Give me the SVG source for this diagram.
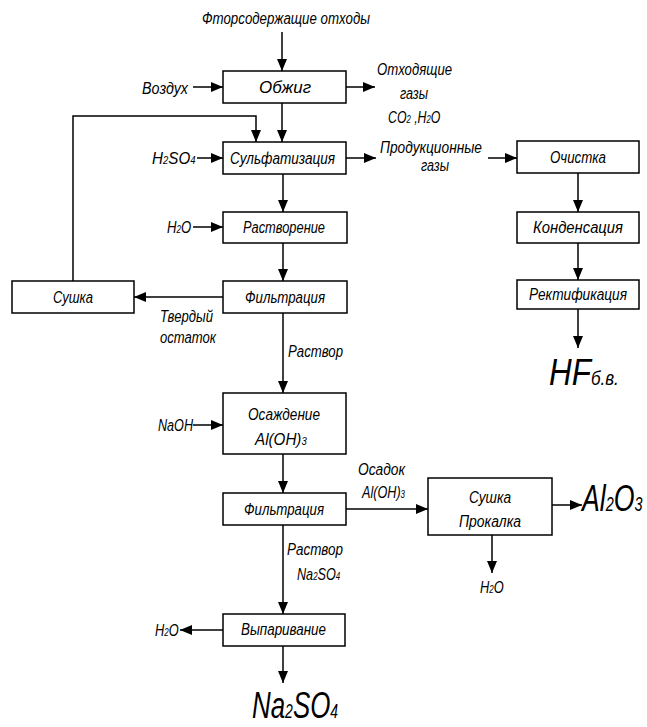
<svg xmlns="http://www.w3.org/2000/svg" width="647" height="727" viewBox="0 0 647 727">
<defs>
<marker id="ah" markerUnits="userSpaceOnUse" markerWidth="13" markerHeight="11" refX="12" refY="5" orient="auto"><path d="M0,0 L12,5 L0,10 z" fill="#000"/></marker>
</defs>
<style>
.box{fill:#fff;stroke:#000;stroke-width:1.5}
.t{font-family:"Liberation Sans",Arial,sans-serif;font-style:italic;font-size:16px;fill:#000}
.c{stroke:#000;stroke-width:1.5;fill:none;marker-end:url(#ah)}
.s{font-size:10px}
.big{font-size:37px}
.bs{font-size:20px}
</style>
<rect width="647" height="727" fill="#fff"/>
<g id="connectors">
<path class="c" d="M282,32 V71"/>
<path class="c" d="M193,87 H223"/>
<path class="c" d="M346,87 H375"/>
<path class="c" d="M282,103 V142"/>
<path class="c" d="M73,281 V116 H256 V142"/>
<path class="c" d="M197,158 H223"/>
<path class="c" d="M346,158 H376"/>
<path class="c" d="M488,158 H517"/>
<path class="c" d="M578,173 V212"/>
<path class="c" d="M578,243 V280"/>
<path class="c" d="M578,309 V348"/>
<path class="c" d="M283,174 V212"/>
<path class="c" d="M193,227 H223"/>
<path class="c" d="M283,243 V281"/>
<path class="c" d="M223,297 H134"/>
<path class="c" d="M283,313 V393"/>
<path class="c" d="M193,425 H223"/>
<path class="c" d="M283,454 V493"/>
<path class="c" d="M346,509 H428"/>
<path class="c" d="M552,505 H582"/>
<path class="c" d="M492,535 V573"/>
<path class="c" d="M283,525 V614"/>
<path class="c" d="M223,630 H180"/>
<path class="c" d="M283,646 V683"/>
</g>
<g id="n-obzhig"><rect class="box" x="223" y="71" width="123" height="32"/><text class="t" x="259" y="93" textLength="52" lengthAdjust="spacingAndGlyphs">Обжиг</text></g>
<g id="n-sulf"><rect class="box" x="223" y="142" width="123" height="32"/><text class="t" x="230" y="164" textLength="105" lengthAdjust="spacingAndGlyphs">Сульфатизация</text></g>
<g id="n-rastv"><rect class="box" x="223" y="212" width="124" height="31"/><text class="t" x="243" y="233" textLength="82" lengthAdjust="spacingAndGlyphs">Растворение</text></g>
<g id="n-filtr1"><rect class="box" x="223" y="281" width="124" height="32"/><text class="t" x="245" y="303" textLength="80" lengthAdjust="spacingAndGlyphs">Фильтрация</text></g>
<g id="n-sushka1"><rect class="box" x="12" y="281" width="122" height="32"/><text class="t" x="53" y="303" textLength="40" lengthAdjust="spacingAndGlyphs">Сушка</text></g>
<g id="n-osazh"><rect class="box" x="223" y="393" width="123" height="61"/><text class="t" x="248" y="420" textLength="72" lengthAdjust="spacingAndGlyphs">Осаждение</text><text class="t" transform="translate(255,445) scale(0.95,1)">Al(OH)<tspan class="s">3</tspan></text></g>
<g id="n-filtr2"><rect class="box" x="223" y="493" width="123" height="32"/><text class="t" x="244" y="515" textLength="80" lengthAdjust="spacingAndGlyphs">Фильтрация</text></g>
<g id="n-sushka2"><rect class="box" x="428" y="478" width="124" height="57"/><text class="t" x="469" y="503" textLength="42" lengthAdjust="spacingAndGlyphs">Сушка</text><text class="t" x="459" y="527" textLength="62" lengthAdjust="spacingAndGlyphs">Прокалка</text></g>
<g id="n-vypar"><rect class="box" x="223" y="614" width="122" height="32"/><text class="t" x="241" y="635" textLength="85" lengthAdjust="spacingAndGlyphs">Выпаривание</text></g>
<g id="n-ochist"><rect class="box" x="517" y="141" width="122" height="32"/><text class="t" x="550" y="163" textLength="56" lengthAdjust="spacingAndGlyphs">Очистка</text></g>
<g id="n-konden"><rect class="box" x="517" y="212" width="122" height="31"/><text class="t" x="533" y="233" textLength="90" lengthAdjust="spacingAndGlyphs">Конденсация</text></g>
<g id="n-rektif"><rect class="box" x="517" y="280" width="122" height="29"/><text class="t" x="529" y="300" textLength="98" lengthAdjust="spacingAndGlyphs">Ректификация</text></g>
<g id="labels">
<text class="t" x="202" y="24" textLength="168" lengthAdjust="spacingAndGlyphs">Фторсодержащие отходы</text>
<text class="t" x="142" y="94" textLength="46" lengthAdjust="spacingAndGlyphs">Воздух</text>
<text class="t" x="377" y="75" textLength="75" lengthAdjust="spacingAndGlyphs">Отходящие</text>
<text class="t" x="400" y="99" textLength="28" lengthAdjust="spacingAndGlyphs">газы</text>
<text class="t" transform="translate(388,123) scale(0.77,1)">CO<tspan class="s">2</tspan> ,H<tspan class="s">2</tspan>O</text>
<text class="t" transform="translate(152,164) scale(0.95,1)">H<tspan class="s">2</tspan>SO<tspan class="s">4</tspan></text>
<text class="t" x="380" y="153" textLength="102" lengthAdjust="spacingAndGlyphs">Продукционные</text>
<text class="t" x="421" y="171" textLength="28" lengthAdjust="spacingAndGlyphs">газы</text>
<text class="t" transform="translate(167,233) scale(0.82,1)">H<tspan class="s">2</tspan>O</text>
<text class="t" x="160" y="322" textLength="53" lengthAdjust="spacingAndGlyphs">Твердый</text>
<text class="t" x="160" y="343" textLength="56" lengthAdjust="spacingAndGlyphs">остаток</text>
<text class="t" x="288" y="357" textLength="55" lengthAdjust="spacingAndGlyphs">Раствор</text>
<text class="t" x="158" y="431" textLength="35" lengthAdjust="spacingAndGlyphs">NaOH</text>
<text class="t" x="358" y="475" textLength="47" lengthAdjust="spacingAndGlyphs">Осадок</text>
<text class="t" transform="translate(362,498) scale(0.79,1)">Al(OH)<tspan class="s">3</tspan></text>
<text class="t" x="287" y="555" textLength="56" lengthAdjust="spacingAndGlyphs">Раствор</text>
<text class="t" transform="translate(297,580) scale(0.79,1)">Na<tspan class="s">2</tspan>SO<tspan class="s">4</tspan></text>
<text class="t" transform="translate(480,593) scale(0.8,1)">H<tspan class="s">2</tspan>O</text>
<text class="t" transform="translate(155,636) scale(0.8,1)">H<tspan class="s">2</tspan>O</text>
<text class="t big" transform="translate(549,385) scale(0.85,1)">HF<tspan class="bs">б.в.</tspan></text>
<text class="t big" transform="translate(582,511) scale(0.72,1)">Al<tspan class="bs">2</tspan>O<tspan class="bs">3</tspan></text>
<text class="t big" transform="translate(252,718) scale(0.7,1)">Na<tspan class="bs">2</tspan>SO<tspan class="bs">4</tspan></text>
</g>
</svg>
